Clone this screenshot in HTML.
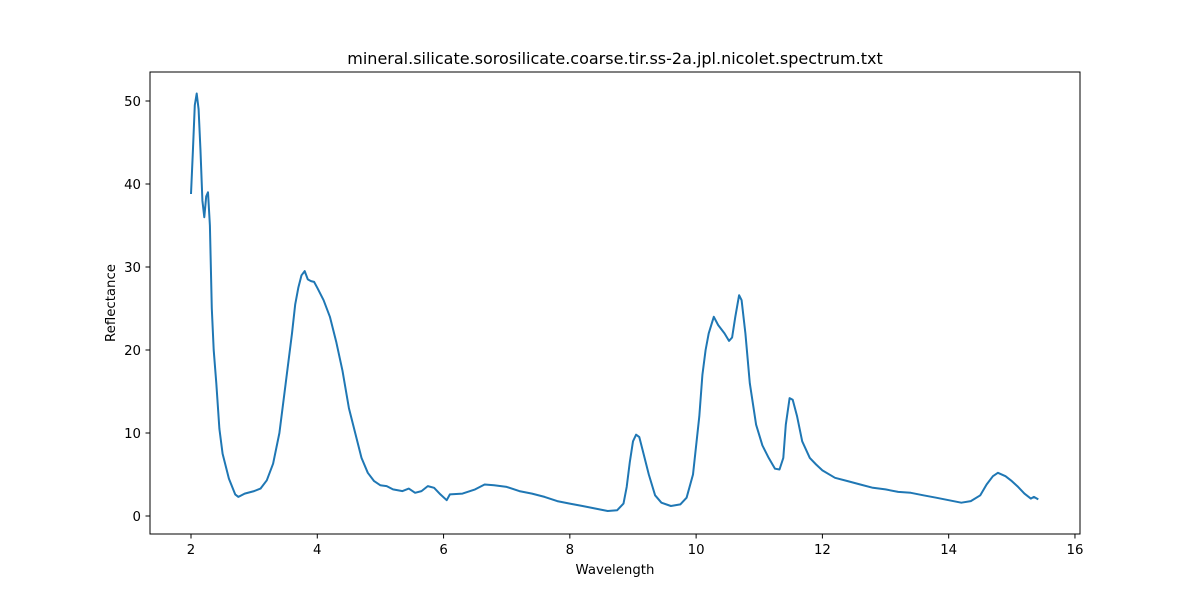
<!DOCTYPE html>
<html><head><meta charset="utf-8"><style>
body{margin:0;background:#fff;}
svg text{font-family:"DejaVu Sans","Liberation Sans",sans-serif;fill:#000;}
</style></head><body>
<svg id="chart" width="1200" height="600" xmlns="http://www.w3.org/2000/svg">
<rect width="1200" height="600" fill="#fff"/>
<text x="615" y="64" font-size="16" text-anchor="middle">mineral.silicate.sorosilicate.coarse.tir.ss-2a.jpl.nicolet.spectrum.txt</text>
<g id="ticks"></g>
<path id="line" fill="none" stroke="#1f77b4" stroke-width="2" stroke-linejoin="round"/>
<rect x="150" y="72" width="930" height="462" fill="none" stroke="#000" stroke-width="1"/>
<text x="615" y="574" font-size="13.3" text-anchor="middle">Wavelength</text>
<text x="115" y="303" font-size="13.3" text-anchor="middle" transform="rotate(-90 115 303)">Reflectance</text>
</svg>
<script>
const xTicks=[2,4,6,8,10,12,14,16];
const yTicks=[0,10,20,30,40,50];
const wavelengths=[2.0,2.03,2.06,2.09,2.12,2.15,2.18,2.21,2.24,2.27,2.30,2.33,2.36,2.40,2.45,2.5,2.6,2.7,2.75,2.85,3.0,3.1,3.2,3.3,3.4,3.5,3.6,3.65,3.7,3.75,3.8,3.85,3.9,3.95,4.0,4.1,4.2,4.3,4.4,4.5,4.6,4.7,4.8,4.9,5.0,5.1,5.2,5.35,5.45,5.55,5.65,5.75,5.85,5.95,6.05,6.1,6.3,6.5,6.65,6.8,7.0,7.2,7.4,7.6,7.8,8.0,8.2,8.4,8.6,8.75,8.85,8.9,8.95,9.0,9.05,9.1,9.15,9.25,9.35,9.45,9.6,9.75,9.85,9.95,10.05,10.1,10.15,10.2,10.28,10.35,10.45,10.52,10.57,10.62,10.68,10.72,10.78,10.85,10.95,11.05,11.15,11.25,11.32,11.38,11.42,11.48,11.53,11.6,11.68,11.8,11.9,12.0,12.2,12.4,12.6,12.8,13.0,13.2,13.4,13.6,13.8,14.0,14.2,14.35,14.5,14.6,14.7,14.78,14.9,15.0,15.1,15.2,15.3,15.35,15.42];
const reflectance=[38.8,44,49.5,50.9,49,44,38,36,38.5,39,35,25,20,16,10.5,7.5,4.5,2.6,2.3,2.7,3.0,3.3,4.3,6.3,10,16,22,25.5,27.5,29,29.5,28.5,28.3,28.2,27.5,26,24,21,17.5,13,10,7,5.2,4.2,3.7,3.6,3.2,3.0,3.3,2.8,3.0,3.6,3.4,2.6,1.9,2.6,2.7,3.2,3.8,3.7,3.5,3.0,2.7,2.3,1.8,1.5,1.2,0.9,0.6,0.7,1.5,3.5,6.5,9.0,9.8,9.5,8,5.0,2.5,1.6,1.2,1.4,2.2,5,12,17,20,22,24,23,22,21.1,21.5,24,26.6,26,22,16,11,8.5,7,5.7,5.6,7,11,14.2,14,12,9,7,6.2,5.5,4.6,4.2,3.8,3.4,3.2,2.9,2.8,2.5,2.2,1.9,1.6,1.8,2.5,3.8,4.8,5.2,4.8,4.2,3.5,2.7,2.1,2.3,2.0];
const sx=v=>191+(v-2)*63.14;
const sy=v=>516-v*8.3;
const NS="http://www.w3.org/2000/svg";
const g=document.getElementById('ticks');
xTicks.forEach(t=>{
  const l=document.createElementNS(NS,'line');
  
  
  l.setAttribute('x1',sx(t));l.setAttribute('x2',sx(t));l.setAttribute('y1',534);l.setAttribute('y2',538.5);l.setAttribute('stroke','#000');
  g.appendChild(l);
  const tx=document.createElementNS(NS,'text');
  
  
  tx.setAttribute('x',sx(t));tx.setAttribute('y',554);tx.setAttribute('font-size','13.3');tx.setAttribute('text-anchor','middle');
  tx.textContent=t;g.appendChild(tx);
});
yTicks.forEach(t=>{
  const l=document.createElementNS(NS,'line');
  
  
  l.setAttribute('x1',145.5);l.setAttribute('x2',150);l.setAttribute('y1',sy(t));l.setAttribute('y2',sy(t));l.setAttribute('stroke','#000');
  g.appendChild(l);
  const tx=document.createElementNS(NS,'text');
  
  
  tx.setAttribute('x',141);tx.setAttribute('y',sy(t)+5);tx.setAttribute('font-size','13.3');tx.setAttribute('text-anchor','end');
  tx.textContent=t;g.appendChild(tx);
});
document.getElementById('line').setAttribute('d',wavelengths.map((w,i)=>(i?'L':'M')+sx(w).toFixed(1)+' '+sy(reflectance[i]).toFixed(1)).join(' '));
</script>
</body></html>
